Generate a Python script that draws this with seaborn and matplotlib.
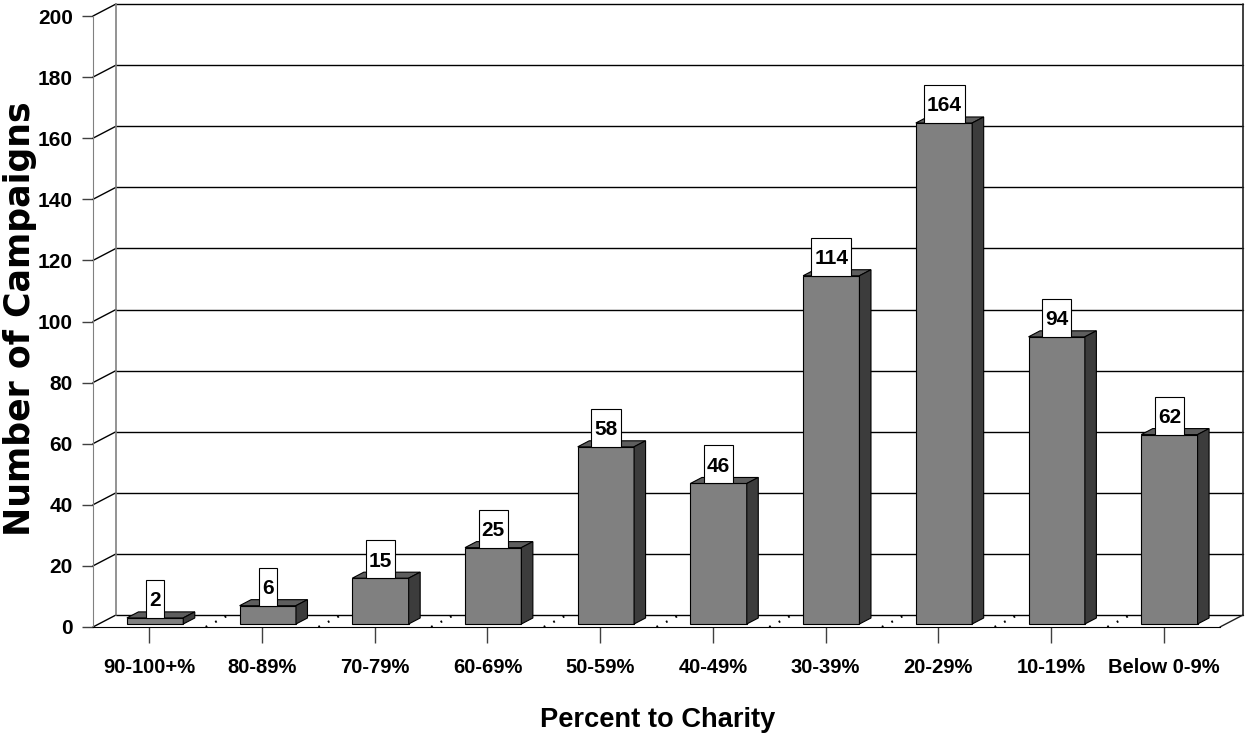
import matplotlib
matplotlib.use("Agg")

import matplotlib.pyplot as plt
import numpy as np
import pandas as pd
import seaborn as sns
from matplotlib.patches import Polygon, Rectangle
from matplotlib.transforms import ScaledTranslation

# Data
categories = ["90-100+%", "80-89%", "70-79%", "60-69%", "50-59%",
              "40-49%", "30-39%", "20-29%", "10-19%", "Below 0-9%"]
campaigns = [2, 6, 15, 25, 58, 46, 114, 164, 94, 62]
y_ticks = [0, 20, 40, 60, 80, 100, 120, 140, 160, 180, 200]

NARROW = ["Liberation Sans Narrow", "Liberation Sans", "DejaVu Sans"]

# 3-D look, in pixels: full depth of the floor, and where the bar sits inside it
DEPTH = (23, 12)
BAR_FRONT = (5.75, 3)
BAR_BACK = (17.25, 9)
LABEL_BOX_H = 38  # px

FRONT = "#808080"
TOP = "#5e5e5e"
SIDE = "#3c3c3c"

sns.set_style("white")
plt.rcParams["font.family"] = NARROW
plt.rcParams["text.color"] = "black"
plt.rcParams["xtick.color"] = "black"
plt.rcParams["ytick.color"] = "black"

W, H = 1247, 738
fig = plt.figure(figsize=(W / 100, H / 100), dpi=100)
ax = fig.add_axes([93 / W, (H - 627) / H, 1127 / W, 611 / H])

df = pd.DataFrame({"pct": categories, "n": campaigns})
sns.barplot(data=df, x="pct", y="n", order=categories, color=FRONT,
            saturation=1, width=0.5, edgecolor="black", linewidth=0.8,
            ax=ax, zorder=3)

ax.set_xlim(-0.5, len(categories) - 0.5)
ax.set_ylim(0, 200)

# pixel -> data scale factors
o = ax.transData.transform((0, 0))
sx = ax.transData.transform((1, 0))[0] - o[0]
sy = ax.transData.transform((0, 1))[1] - o[1]


def dep(x, y, off):
    return (x + off[0] / sx, y + off[1] / sy)


x_lo, x_hi = -0.5, len(categories) - 0.5

# back wall gridlines and left wall diagonals
for v in y_ticks:
    a, b = dep(x_lo, v, DEPTH), dep(x_hi, v, DEPTH)
    ax.plot([a[0], b[0]], [a[1], b[1]], color="black", lw=1, clip_on=False, zorder=1)
    ax.plot([x_lo, a[0]], [v, a[1]], color="black", lw=1, clip_on=False, zorder=1)

# wall edges
for xe, col in [(x_lo, "#808080"), (x_hi, "#202020")]:
    a, b = dep(xe, 0, DEPTH), dep(xe, 200, DEPTH)
    ax.plot([a[0], b[0]], [a[1], b[1]], color=col, lw=1.2, clip_on=False, zorder=1)
a = dep(x_hi, 0, DEPTH)
ax.plot([x_hi, a[0]], [0, a[1]], color="#202020", lw=1, clip_on=False, zorder=1)

# dotted floor lines at category boundaries
for i in range(1, len(categories)):
    xb = x_lo + i
    a = dep(xb, 0, DEPTH)
    ax.plot([xb, a[0]], [0, a[1]], color="black", lw=1.6,
            linestyle=(0, (0.8, 4)), clip_on=False, zorder=1.5)

renderer = fig.canvas.get_renderer()

# push seaborn's front faces back into the floor, add top and side faces
shift = ax.transData + ScaledTranslation(BAR_FRONT[0] / 100, BAR_FRONT[1] / 100,
                                         fig.dpi_scale_trans)
for p, val in zip(ax.patches[:len(campaigns)], campaigns):
    p.set_transform(shift)
    p.set_clip_on(False)
    x0 = p.get_x()
    x1 = x0 + p.get_width()
    top = [dep(x0, val, BAR_FRONT), dep(x1, val, BAR_FRONT),
           dep(x1, val, BAR_BACK), dep(x0, val, BAR_BACK)]
    side = [dep(x1, 0, BAR_FRONT), dep(x1, 0, BAR_BACK),
            dep(x1, val, BAR_BACK), dep(x1, val, BAR_FRONT)]
    ax.add_patch(Polygon(top, closed=True, facecolor=TOP, edgecolor="black",
                         lw=0.8, clip_on=False, zorder=3))
    ax.add_patch(Polygon(side, closed=True, facecolor=SIDE, edgecolor="black",
                         lw=0.8, clip_on=False, zorder=3))

    # value label in a white box sitting on the bar's front edge
    xc = x0 + p.get_width() / 2
    bx, by = dep(xc, val, BAR_FRONT)
    tx, ty = dep(xc, val, (BAR_FRONT[0], BAR_FRONT[1] + LABEL_BOX_H / 2 - 7.5))
    t = ax.text(tx, ty, str(val), ha="center", va="baseline", fontsize=15,
                fontweight="bold", family=NARROW, zorder=5, clip_on=False)
    tw = t.get_window_extent(renderer).width + 6
    ax.add_patch(Rectangle((bx - tw / 2 / sx, by), tw / sx, LABEL_BOX_H / sy,
                           facecolor="white", edgecolor="black", lw=0.8,
                           clip_on=False, zorder=4))

# axes furniture
for s in ["top", "right"]:
    ax.spines[s].set_visible(False)
ax.spines["left"].set_color("#808080")
ax.spines["bottom"].set_color("black")
ax.spines["left"].set_zorder(1)
ax.set_yticks(y_ticks)
ax.tick_params(axis="y", direction="out", length=8, width=1, color="#404040",
               pad=6.5, labelsize=15, left=True)
ax.tick_params(axis="x", direction="out", length=11.5, width=1, color="#404040",
               pad=11, labelsize=14.5, bottom=True)
for lab in ax.get_xticklabels() + ax.get_yticklabels():
    lab.set_fontweight("bold")
ax.set_xlabel("")
ax.set_ylabel("")
ax.patch.set_alpha(0)

fig.text(20 / W, 1 - 319 / H, "Number of Campaigns", rotation=90,
         ha="center", va="center", fontsize=25, fontweight="bold",
         family=["DejaVu Sans"])
fig.text(658 / W, (H - 727) / H, "Percent to Charity", ha="center",
         va="baseline", fontsize=19.6, fontweight="bold", family=NARROW)

fig.savefig("out.png", dpi=100)
plt.close(fig)
